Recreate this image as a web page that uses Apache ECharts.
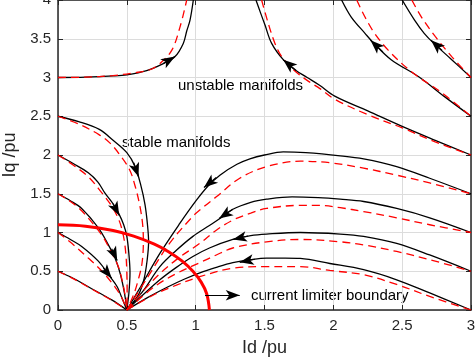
<!DOCTYPE html>
<html>
<head>
<meta charset="utf-8">
<script src="https://cdn.jsdelivr.net/npm/echarts@6/dist/echarts.min.js"></script>
<style>
  html, body { margin: 0; padding: 0; background: #fff; }
  #main { width: 475px; height: 362px; }
</style>
</head>
<body>
<div id="main"></div>
<script>
// tick labels
const xTicks = [0, 0.5, 1, 1.5, 2, 2.5, 3];
const yTicks = [0, 0.5, 1, 1.5, 2, 2.5, 3, 3.5, 4];

// trajectories, black = simulated, red = approximation
const topBlack = [[0,3.0],[0.2,3.005],[0.4,3.02],[0.5,3.035],[0.644,3.09],[0.765,3.18],[0.85,3.27],[0.91,3.44],[0.935,3.6],[0.959,3.74],[0.983,4.0]];
const topRed   = [[0,3.0],[0.2,3.005],[0.4,3.025],[0.55,3.06],[0.668,3.10],[0.74,3.18],[0.826,3.35],[0.886,3.65],[0.935,4.0]];

const aBlack = [[1.438,4.0],[1.47,3.84],[1.503,3.68],[1.552,3.44],[1.636,3.23],[1.72,3.1],[1.81,3.0],[1.9,2.9],[2.01,2.76],[2.25,2.57],[2.5,2.37],[2.74,2.19],[3.0,2.0]];
const aRed   = [[1.479,4.0],[1.527,3.70],[1.576,3.44],[1.625,3.27],[1.71,3.10],[1.82,2.95],[1.9,2.86],[2.01,2.72],[2.25,2.52],[2.5,2.35],[2.74,2.17],[3.0,2.0]];
const bBlack = [[2.06,4.0],[2.13,3.78],[2.23,3.57],[2.29,3.45],[2.42,3.23],[2.62,3.01],[2.81,2.75],[3.0,2.5]];
const bRed   = [[2.17,4.0],[2.23,3.78],[2.3,3.57],[2.4,3.35],[2.57,3.07],[2.79,2.8],[3.0,2.5]];
const cBlack = [[2.5,4.0],[2.59,3.74],[2.66,3.57],[2.73,3.44],[2.86,3.23],[3.0,3.0]];
const cRed   = [[2.57,4.0],[2.64,3.78],[2.74,3.53],[2.86,3.27],[3.0,3.0]];

const s25Black = [[0,2.5],[0.15,2.43],[0.3,2.33],[0.4,2.19],[0.5,2.03],[0.56,1.85],[0.6,1.62],[0.632,1.36],[0.65,1.1],[0.658,0.88],[0.648,0.65],[0.625,0.4],[0.585,0.2],[0.5,0]];
const s25Red   = [[0,2.5],[0.15,2.4],[0.3,2.26],[0.38,2.15],[0.45,2.0],[0.52,1.81],[0.56,1.6],[0.595,1.34],[0.615,1.1],[0.62,0.88],[0.61,0.6],[0.583,0.39],[0.55,0.2],[0.5,0]];
const s20Black = [[0,2.0],[0.11,1.89],[0.22,1.77],[0.29,1.65],[0.34,1.51],[0.4,1.37],[0.44,1.25],[0.477,1.1],[0.5,0.95],[0.515,0.72],[0.523,0.48],[0.515,0.22],[0.5,0]];
const s20Red   = [[0,2.0],[0.11,1.87],[0.22,1.72],[0.31,1.53],[0.39,1.34],[0.445,1.15],[0.476,0.95],[0.493,0.72],[0.5,0.48],[0.502,0.22],[0.5,0]];
const s15Black = [[0,1.5],[0.09,1.41],[0.172,1.31],[0.293,1.06],[0.36,0.86],[0.414,0.67],[0.45,0.48],[0.474,0.3],[0.49,0.14],[0.5,0]];
const s15Red   = [[0,1.5],[0.09,1.4],[0.172,1.28],[0.317,0.97],[0.38,0.77],[0.438,0.56],[0.47,0.35],[0.49,0.16],[0.5,0]];
const s10Black = [[0,1.0],[0.09,0.91],[0.172,0.82],[0.293,0.63],[0.378,0.43],[0.43,0.3],[0.46,0.175],[0.5,0]];
const s10Red   = [[0,1.0],[0.1,0.86],[0.22,0.67],[0.32,0.5],[0.4,0.33],[0.46,0.17],[0.5,0]];
const s05Black = [[0,0.5],[0.11,0.41],[0.22,0.3],[0.39,0.13],[0.5,0]];
const s05Red   = [[0,0.5],[0.11,0.405],[0.22,0.295],[0.39,0.125],[0.5,0]];

const f1Black = [[0.5,0],[0.6,0.3],[0.74,0.73],[0.886,1.12],[1.007,1.42],[1.09,1.6],[1.176,1.74],[1.3,1.88],[1.394,1.95],[1.5,2.0],[1.636,2.04],[1.8,2.03],[2.05,1.99],[2.22,1.95],[2.46,1.85],[2.7,1.7],[3.0,1.5]];
const f1Red   = [[0.5,0],[0.65,0.42],[0.81,0.86],[0.98,1.21],[1.03,1.29],[1.15,1.46],[1.32,1.7],[1.515,1.85],[1.76,1.92],[1.975,1.9],[2.22,1.83],[2.46,1.74],[2.7,1.64],[3.0,1.5]];
const f2Black = [[0.5,0],[0.62,0.25],[0.74,0.56],[0.86,0.77],[0.98,0.95],[1.1,1.09],[1.176,1.18],[1.27,1.3],[1.4,1.39],[1.515,1.43],[1.7,1.46],[1.89,1.45],[2.05,1.43],[2.22,1.4],[2.46,1.31],[2.7,1.19],[3.0,1.0]];
const f2Red   = [[0.5,0],[0.7,0.4],[0.86,0.65],[1.03,0.86],[1.15,1.03],[1.27,1.16],[1.4,1.25],[1.515,1.31],[1.76,1.35],[1.89,1.35],[2.05,1.32],[2.22,1.27],[2.46,1.19],[2.7,1.1],[3.0,1.0]];
const f3Black = [[0.5,0],[0.62,0.2],[0.74,0.39],[0.86,0.55],[0.98,0.69],[1.1,0.8],[1.27,0.91],[1.4,0.96],[1.515,0.98],[1.76,1.0],[2.05,0.98],[2.22,0.95],[2.46,0.86],[2.7,0.71],[3.0,0.5]];
const f3Red   = [[0.5,0],[0.7,0.3],[0.86,0.47],[1.03,0.61],[1.15,0.71],[1.27,0.8],[1.515,0.88],[1.76,0.91],[2.05,0.88],[2.22,0.84],[2.46,0.755],[2.7,0.65],[3.0,0.5]];
const f4Black = [[0.5,0],[0.65,0.16],[0.8,0.3],[0.92,0.4],[1.03,0.48],[1.15,0.55],[1.27,0.61],[1.4,0.65],[1.515,0.67],[1.65,0.67],[1.76,0.665],[1.975,0.6],[2.22,0.52],[2.46,0.39],[2.7,0.22],[3.0,0]];
const f4Red   = [[0.5,0],[0.7,0.2],[0.86,0.32],[1.03,0.43],[1.27,0.54],[1.515,0.56],[1.76,0.56],[1.975,0.51],[2.22,0.455],[2.46,0.33],[2.7,0.175],[3.0,0]];

// current limiter boundary
const limiter = [[0,1.1],[0.2,1.082],[0.4,1.025],[0.55,0.953],[0.7,0.85],[0.8,0.755],[0.9,0.633],[0.98,0.5],[1.04,0.36],[1.08,0.21],[1.1,0]];

// arrows: [tail, tip]
const arrows = [
  [[0.765,3.18],[0.85,3.27]],
  [[1.73,3.09],[1.636,3.23]],
  [[2.36,3.33],[2.27,3.48]],
  [[2.79,3.35],[2.71,3.48]],
  [[0.55,1.9],[0.585,1.72]],
  [[0.40,1.37],[0.445,1.22]],
  [[0.39,0.79],[0.43,0.64]],
  [[0.33,0.54],[0.39,0.41]],
  [[1.15,1.71],[1.06,1.58]],
  [[1.27,1.3],[1.17,1.18]],
  [[1.38,0.955],[1.27,0.91]],
  [[1.43,0.655],[1.32,0.615]],
  [[1.068,0.19],[1.32,0.19]]
];

const blackCurves = [topBlack, aBlack, bBlack, cBlack, s25Black, s20Black, s15Black, s10Black, s05Black, f1Black, f2Black, f3Black, f4Black];
const redCurves = [topRed, aRed, bRed, cRed, s25Red, s20Red, s15Red, s10Red, s05Red, f1Red, f2Red, f3Red, f4Red];

const FONT = '"Liberation Sans", Arial, Helvetica, sans-serif';
const AX = '#262626';

const chart = echarts.init(document.getElementById('main'));

function solid(data) {
  return { type: 'line', data: data, showSymbol: false, smooth: 0.35, silent: true, z: 2,
    lineStyle: { color: '#000', width: 1.3 } };
}
function dashed(data) {
  return { type: 'line', data: data, showSymbol: false, smooth: 0.35, silent: true, z: 3,
    lineStyle: { color: '#ff0000', width: 1.3, type: [8, 5] } };
}

const series = [];
blackCurves.forEach(c => series.push(solid(c)));
redCurves.forEach(c => series.push(dashed(c)));
series.push({
  type: 'line', data: limiter, showSymbol: false, smooth: 0.4, silent: true, z: 4,
  lineStyle: { color: '#ff0000', width: 3 }
});
series.push({
  type: 'line', data: [], silent: true, z: 5,
  markLine: {
    silent: true, animation: false,
    symbol: ['none', 'arrow'], symbolSize: [8, 14],
    label: { show: false },
    lineStyle: { color: '#000', width: 1.2, type: 'solid' },
    emphasis: { disabled: true },
    data: arrows.map(a => [{ coord: a[0] }, { coord: a[1] }])
  }
});

const axisCommon = {
  type: 'value',
  axisLine: { show: true, onZero: false, lineStyle: { color: AX, width: 1.5 } },
  axisTick: { show: true, inside: true, length: 5, lineStyle: { color: AX, width: 1 } },
  splitLine: { show: false }
};

chart.setOption({
  animation: false,
  backgroundColor: '#fff',
  grid: { left: 58, right: 4, top: 0, bottom: 52, containLabel: false, outerBoundsMode: 'none' },
  xAxis: [
    Object.assign({}, axisCommon, {
      min: 0, max: 3, interval: 0.5, position: 'bottom',
      name: 'Id /pu', nameLocation: 'middle', nameGap: 29,
      nameTextStyle: { fontFamily: FONT, fontSize: 18, color: AX },
      axisLabel: { fontFamily: FONT, fontSize: 15, color: AX, margin: 8,
        formatter: v => xTicks.indexOf(v) >= 0 ? String(v) : '' },
      splitLine: { show: true, lineStyle: { color: '#dcdcdc', width: 1 } }
    }),
    Object.assign({}, axisCommon, {
      min: 0, max: 3, interval: 0.5, position: 'top', axisLabel: { show: false }
    })
  ],
  yAxis: [
    Object.assign({}, axisCommon, {
      min: 0, max: 4, interval: 0.5, position: 'left',
      name: 'Iq /pu', nameLocation: 'middle', nameGap: 28,
      nameTextStyle: { fontFamily: FONT, fontSize: 18, color: AX },
      axisLabel: { fontFamily: FONT, fontSize: 15, color: AX, margin: 7,
        formatter: v => yTicks.indexOf(v) >= 0 ? String(v) : '' },
      splitLine: { show: true, lineStyle: { color: '#dcdcdc', width: 1 } }
    }),
    Object.assign({}, axisCommon, {
      min: 0, max: 4, interval: 0.5, position: 'right', axisLabel: { show: false }
    })
  ],
  graphic: [
    { type: 'text', left: 178, top: 78, silent: true,
      style: { text: 'unstable manifolds', font: '15px ' + FONT, fill: '#000' } },
    { type: 'text', left: 122, top: 135, silent: true,
      style: { text: 'stable manifolds', font: '15px ' + FONT, fill: '#000' } },
    { type: 'text', left: 251, top: 288, silent: true,
      style: { text: 'current limiter boundary', font: '15px ' + FONT, fill: '#000' } }
  ],
  series: series
});
</script>
</body>
</html>
